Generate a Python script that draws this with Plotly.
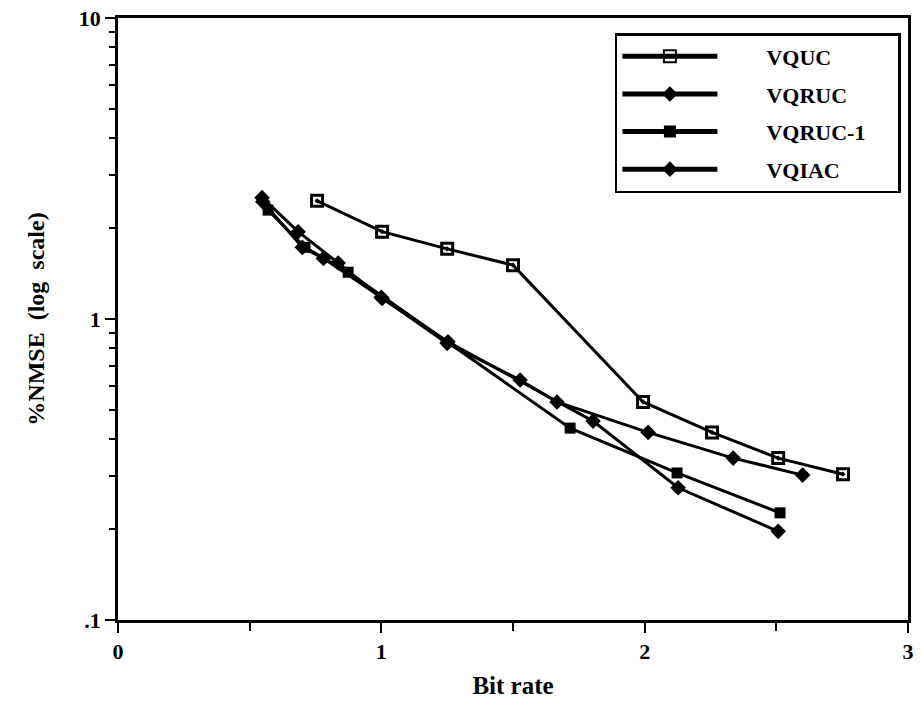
import plotly.graph_objects as go

# Data
vquc_x = [0.756, 1.003, 1.25, 1.50, 1.994, 2.256, 2.507, 2.753]
vquc_y = [2.47, 1.95, 1.71, 1.51, 0.53, 0.42, 0.345, 0.305]

vqruc_x = [0.55, 0.70, 0.78, 1.00, 1.25, 1.527, 1.667, 2.013, 2.336, 2.60]
vqruc_y = [2.45, 1.73, 1.59, 1.18, 0.83, 0.627, 0.53, 0.42, 0.345, 0.303]

vqruc1_x = [0.57, 0.71, 0.874, 1.717, 2.123, 2.514]
vqruc1_y = [2.30, 1.73, 1.43, 0.434, 0.308, 0.227]

vqiac_x = [0.547, 0.684, 0.836, 1.003, 1.253, 1.804, 2.127, 2.507]
vqiac_y = [2.53, 1.95, 1.535, 1.17, 0.84, 0.458, 0.275, 0.197]

series_names = ["VQUC", "VQRUC", "VQRUC-1", "VQIAC"]

FONT = "Liberation Serif"
PAD = "\u00a0" * 8
TPAD = "\u00a0" * 5

fig = go.Figure()
fig.add_trace(go.Scatter(x=vquc_x, y=vquc_y, name=PAD + series_names[0] + TPAD, legendgroup="a",
                         mode="lines+markers", line=dict(color="black", width=3),
                         marker=dict(symbol="square-open-dot", size=11, color="black",
                                     line=dict(width=3, color="black"))))
fig.add_trace(go.Scatter(x=vqruc_x, y=vqruc_y, name=PAD + series_names[1] + TPAD, legendgroup="b",
                         mode="lines+markers", line=dict(color="black", width=3),
                         marker=dict(symbol="diamond", size=12, color="black")))
fig.add_trace(go.Scatter(x=vqruc1_x, y=vqruc1_y, name=PAD + series_names[2] + TPAD, legendgroup="c",
                         mode="lines+markers", line=dict(color="black", width=3),
                         marker=dict(symbol="square", size=11, color="black")))
fig.add_trace(go.Scatter(x=vqiac_x, y=vqiac_y, name=PAD + series_names[3] + TPAD, legendgroup="d",
                         mode="lines+markers", line=dict(color="black", width=3),
                         marker=dict(symbol="diamond", size=12, color="black")))

fig.update_layout(
    width=921, height=704,
    margin=dict(l=118, r=13, t=18, b=84, autoexpand=False),
    paper_bgcolor="white", plot_bgcolor="white",
    font=dict(family=FONT, color="black", size=20),
    legend=dict(x=0.629, y=0.975, xanchor="left", yanchor="top",
                bordercolor="black", borderwidth=2.5, bgcolor="white",
                font=dict(family=FONT, size=22, color="black", weight="bold"),
                itemwidth=95, tracegroupgap=6, itemsizing="constant"),
    xaxis=dict(range=[0, 3], dtick=1, tick0=0, ticks="outside", ticklen=10, tickwidth=2,
               tickcolor="black", showline=True, linewidth=2.5, linecolor="black",
               mirror=True, showgrid=False, zeroline=False, automargin=False,
               ticklabeloverflow="allow",
               tickfont=dict(family=FONT, size=22, weight="bold"),
               minor=dict(dtick=0.5, ticks="outside", ticklen=8, tickwidth=2, tickcolor="black"),
               title=dict(text="Bit rate", font=dict(family=FONT, size=25, weight="bold"), standoff=14)),
    yaxis=dict(type="log", range=[-1, 1], tickmode="array", tickvals=[0.1, 1, 10],
               ticktext=[".1", "1", "10"], ticks="outside", ticklen=10, tickwidth=2,
               tickcolor="black", showline=True, linewidth=2.5, linecolor="black",
               mirror=True, showgrid=False, zeroline=False, automargin=False,
               ticklabeloverflow="allow",
               tickfont=dict(family=FONT, size=22, weight="bold"),
               minor=dict(tickmode="array",
                          tickvals=[0.2, 0.3, 0.4, 0.5, 0.6, 0.7, 0.8, 0.9,
                                    2, 3, 4, 5, 6, 7, 8, 9],
                          ticks="outside", ticklen=6, tickwidth=2, tickcolor="black"),
               title=dict(text="%NMSE  (log  scale)", font=dict(family=FONT, size=24, weight="bold"),
                          standoff=28)),
)

fig.write_html("out.html", config={"displayModeBar": False},
               post_script="document.body.style.margin='0';")
